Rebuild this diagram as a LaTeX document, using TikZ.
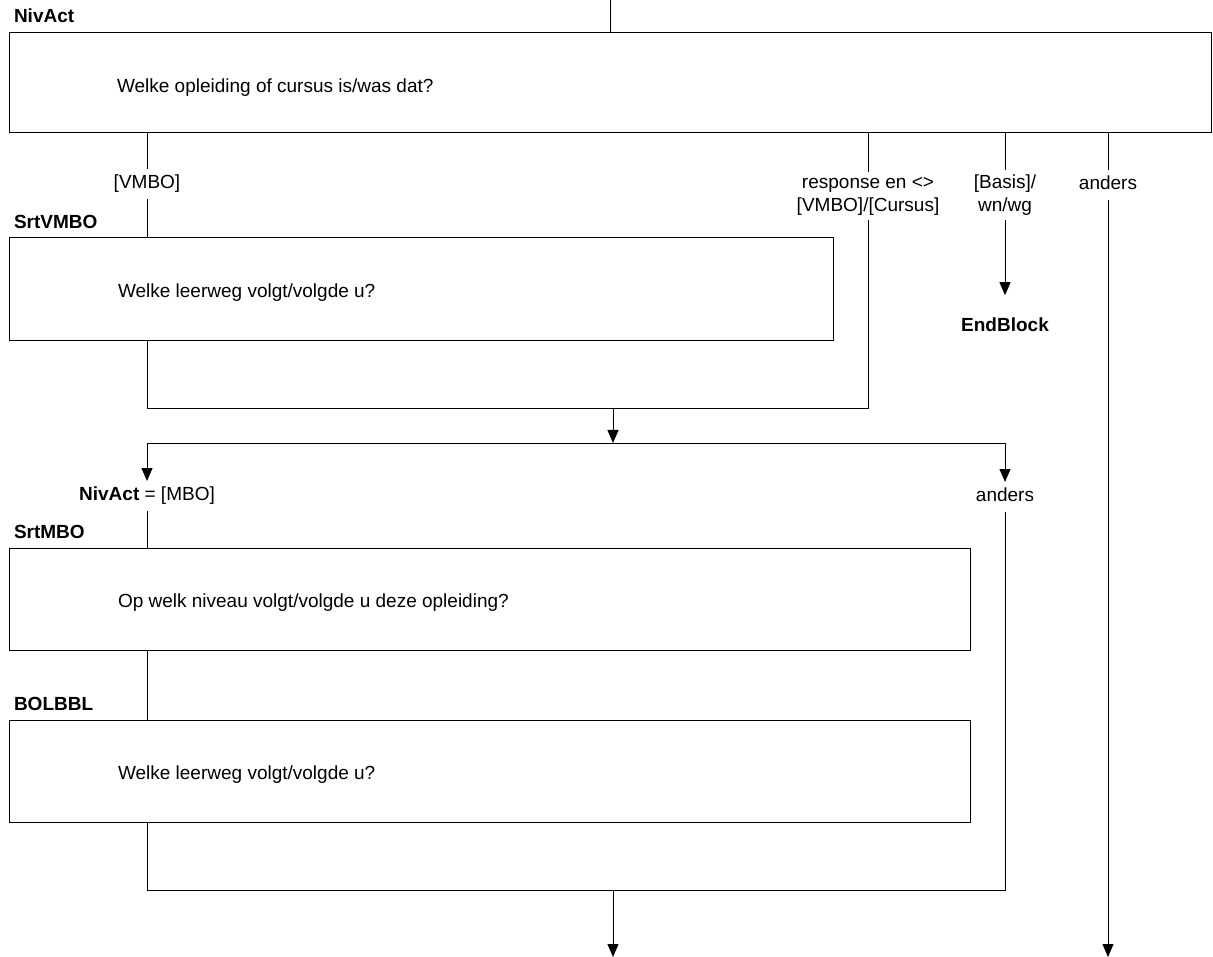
\documentclass[tikz,border=0pt]{standalone}
\usepackage{fontspec}
\setmainfont{Liberation Sans}
\usetikzlibrary{arrows.meta,positioning}

\newcommand\qfont{\fontsize{19}{23}\selectfont}

\tikzset{
  qbox/.style={draw, line width=1pt, inner sep=0pt},
  qname/.style={anchor=base west, font=\qfont\bfseries, inner sep=0pt},
  qtext/.style={anchor=base west, font=\qfont, inner sep=0pt},
  cond/.style={font=\qfont, inner xsep=2pt, inner ysep=6pt, text height=13pt, text depth=4pt},
  cond2/.style={font=\qfont, inner xsep=2pt, inner ysep=4pt, align=center},
  arr/.style={-{Triangle[length=13pt,width=11pt]}},
}

\begin{document}
\begin{tikzpicture}[x=1pt, y=-1pt, line width=1pt]
\useasboundingbox (0,0) rectangle (1213,957);

% NivAct
\coordinate (top) at (610,0);
\node[qbox, minimum width=1202pt, minimum height=100pt] (nivact) at (610,83) {};
\node[qname] (nivact-name) at ([shift={(5pt,10pt)}]nivact.north west) {NivAct};
\node[qtext] (nivact-q) at ([shift={(108pt,-10pt)}]nivact.west) {Welke opleiding of cursus is/was dat?};
\draw (top) -- (nivact.north);

% routes out of NivAct
\node[cond] (lvmbo) at (147,184) {[VMBO]};
\node[cond2] (lresp) at (868,196) {response en <>\\{}[VMBO]/[Cursus]};
\node[cond2] (lbasis) at (1005,195) {[Basis]/\\wn/wg};
\node[cond] (landers1) at (1108,185) {anders};
\node[font=\qfont\bfseries] (endblock) at (1005,325) {EndBlock};
\draw (lvmbo |- nivact.south) -- (lvmbo.north);
\draw (lresp |- nivact.south) -- (lresp.north);
\draw (lbasis |- nivact.south) -- (lbasis.north);
\draw (landers1 |- nivact.south) -- (landers1.north);
\draw[arr, shorten >=19pt] (lbasis.south) -- (endblock.north);

% SrtVMBO
\node[qbox, minimum width=824pt, minimum height=103pt] (srtvmbo) at (421,289.5) {};
\node[qname] (srtvmbo-name) at ([shift={(5pt,9pt)}]srtvmbo.north west) {SrtVMBO};
\node[qtext] (srtvmbo-q) at ([shift={(109pt,-8pt)}]srtvmbo.west) {Welke leerweg volgt/volgde u?};
\draw (lvmbo.south) -- (lvmbo |- srtvmbo.north);

% merge
\coordinate (join1) at (613,409);
\coordinate (split) at (613,443);
\draw (lvmbo |- srtvmbo.south) |- (lresp |- join1) -- (lresp.south);
\draw[arr] (join1) -- (split);

% split on NivAct
\node[cond] (lmbo) at (147,496) {\textbf{NivAct} = [MBO]};
\node[cond] (landers2) at (1005,497) {anders};
\draw[arr] (split) -| (lmbo.north);
\draw[arr] (split) -| (landers2.north);

% SrtMBO and BOLBBL
\node[qbox, minimum width=961pt, minimum height=102pt] (srtmbo) at (489.5,599) {};
\node[qname] (srtmbo-name) at ([shift={(5pt,9pt)}]srtmbo.north west) {SrtMBO};
\node[qtext] (srtmbo-q) at ([shift={(109pt,-8pt)}]srtmbo.west) {Op welk niveau volgt/volgde u deze opleiding?};
\node[qbox, minimum width=961pt, minimum height=102pt] (bolbbl) at (489.5,771) {};
\node[qname] (bolbbl-name) at ([shift={(5pt,9pt)}]bolbbl.north west) {BOLBBL};
\node[qtext] (bolbbl-q) at ([shift={(109pt,-8pt)}]bolbbl.west) {Welke leerweg volgt/volgde u?};
\draw (lmbo.south) -- (lmbo |- srtmbo.north);
\draw (lmbo |- srtmbo.south) -- (lmbo |- bolbbl.north);

% merge and exits
\coordinate (join2) at (613,890);
\coordinate (out2) at (613,957);
\coordinate (out1) at (1108,957);
\draw (lmbo |- bolbbl.south) |- (landers2 |- join2) -- (landers2.south);
\draw[arr] (join2) -- (out2);
\draw[arr] (landers1.south) -- (out1);
\end{tikzpicture}
\end{document}
